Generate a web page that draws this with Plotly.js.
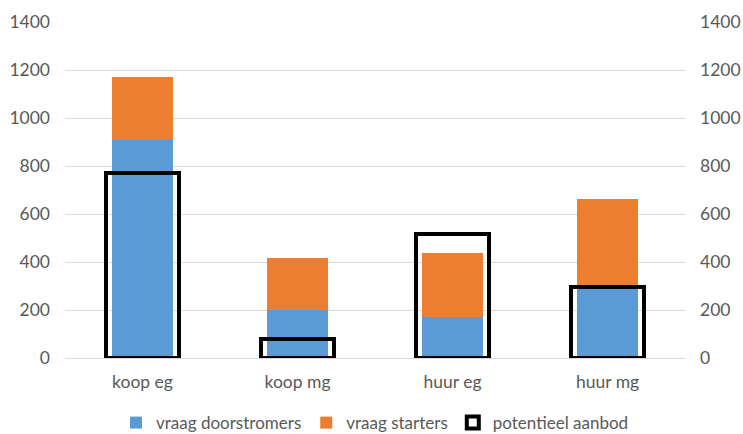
<!DOCTYPE html>
<html>
<head>
<meta charset="utf-8">
<script src="https://cdn.plot.ly/plotly-3.0.1.min.js"></script>
<style>html,body{margin:0;padding:0;background:#fff;}#chart{width:743px;height:434px;}</style>
</head>
<body>
<div id="chart"></div>
<script>
const categories = ['koop eg', 'koop mg', 'huur eg', 'huur mg'];
const doorstromers = [908, 198, 172, 297];
const starters = [264, 217, 264, 364];
const aanbod = [772, 80, 518, 297];
const yTicks = [0, 200, 400, 600, 800, 1000, 1200, 1400];

const font = {family: 'Lato, "Open Sans", sans-serif', size: 17.5, color: '#595959'};
const legendFont = {family: 'Lato, "Open Sans", sans-serif', size: 17, color: '#595959'};

const traces = [
  {type: 'bar', name: 'vraag doorstromers', x: categories, y: doorstromers,
   marker: {color: '#5b9bd5'}, width: 0.39, xaxis: 'x', yaxis: 'y', hoverinfo: 'skip'},
  {type: 'bar', name: 'vraag starters', x: categories, y: starters,
   marker: {color: '#ed7d31'}, width: 0.39, xaxis: 'x', yaxis: 'y', hoverinfo: 'skip'},
  {type: 'bar', name: 'potentieel aanbod', x: categories, y: aanbod,
   marker: {color: 'rgba(0,0,0,0)', line: {color: '#000', width: 4}}, width: 0.47,
   xaxis: 'x', yaxis: 'y2', hoverinfo: 'skip'}
];

const layout = {
  width: 743, height: 434,
  margin: {l: 65, r: 58, t: 22, b: 76, autoexpand: false},
  paper_bgcolor: '#fff', plot_bgcolor: '#fff',
  barmode: 'stack',
  font: font,
  showlegend: true,
  xaxis: {type: 'category', showgrid: false, showline: false, zeroline: false,
          ticks: '', tickfont: font, ticklabelstandoff: 11},
  yaxis: {range: [0, 1400], tickvals: yTicks, showgrid: true, gridcolor: '#d9d9d9',
          gridwidth: 1, zeroline: true, zerolinecolor: '#d9d9d9', zerolinewidth: 1,
          showline: false, ticks: '', tickfont: font, ticklabelstandoff: 14},
  yaxis2: {range: [0, 1400], tickvals: yTicks, overlaying: 'y', side: 'right',
           showgrid: false, zeroline: false, showline: false, ticks: '',
           tickfont: font, ticklabelstandoff: 14},
  legend: {orientation: 'h', x: 0.5, xanchor: 'center', y: -0.14, yanchor: 'top',
           font: legendFont, traceorder: 'normal', itemwidth: 30}
};

Plotly.newPlot('chart', traces, layout, {staticPlot: true, displayModeBar: false});
</script>
</body>
</html>
